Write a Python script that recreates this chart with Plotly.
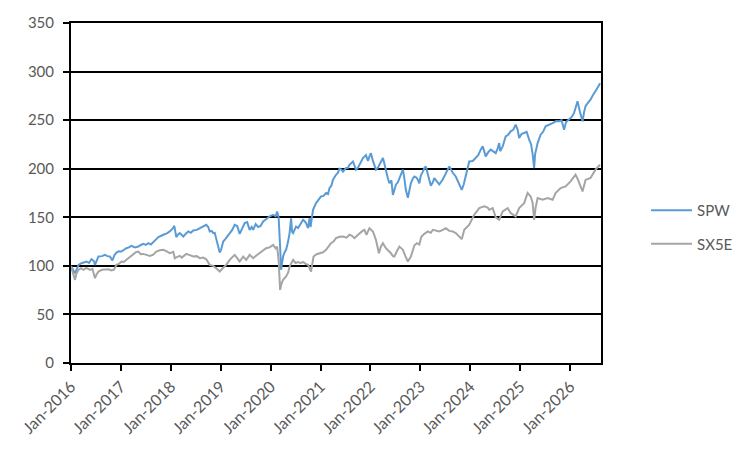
import plotly.graph_objects as go

# ---- data (x = decimal year) ----
spw_t = [2016.00, 2016.04, 2016.08, 2016.12, 2016.15, 2016.21, 2016.26, 2016.31, 2016.36, 2016.41,
         2016.46, 2016.48, 2016.52, 2016.55, 2016.62, 2016.68, 2016.73, 2016.78, 2016.83, 2016.87,
         2016.91, 2016.96, 2017.01, 2017.06, 2017.11, 2017.16, 2017.21, 2017.28, 2017.35, 2017.40,
         2017.45, 2017.50, 2017.55, 2017.60, 2017.65, 2017.70, 2017.75, 2017.80, 2017.85, 2017.92,
         2017.98, 2018.03, 2018.07, 2018.11, 2018.14, 2018.18, 2018.22, 2018.25, 2018.30, 2018.35,
         2018.40, 2018.45, 2018.52, 2018.58, 2018.65, 2018.71, 2018.75, 2018.78, 2018.82, 2018.85,
         2018.88, 2018.91, 2018.95, 2018.98, 2019.01, 2019.05, 2019.10, 2019.14, 2019.18, 2019.23,
         2019.28, 2019.33, 2019.38, 2019.43, 2019.48, 2019.53, 2019.58, 2019.62, 2019.65, 2019.70,
         2019.75, 2019.80, 2019.85, 2019.91, 2019.98, 2020.05, 2020.10, 2020.13, 2020.16, 2020.19,
         2020.21, 2020.23, 2020.25, 2020.28, 2020.31, 2020.35, 2020.38, 2020.41, 2020.43, 2020.45,
         2020.48, 2020.51, 2020.55, 2020.58, 2020.65, 2020.68, 2020.71, 2020.75, 2020.78, 2020.80,
         2020.83, 2020.85, 2020.91, 2020.96, 2021.01, 2021.06, 2021.11, 2021.15, 2021.18, 2021.22,
         2021.25, 2021.31, 2021.35, 2021.38, 2021.42, 2021.45, 2021.51, 2021.55, 2021.58, 2021.65,
         2021.68, 2021.71, 2021.75, 2021.78, 2021.85, 2021.91, 2021.95, 2021.98, 2022.01, 2022.05,
         2022.08, 2022.11, 2022.15, 2022.18, 2022.21, 2022.25, 2022.28, 2022.31, 2022.35, 2022.38,
         2022.42, 2022.45, 2022.48, 2022.51, 2022.55, 2022.58, 2022.62, 2022.65, 2022.68, 2022.71,
         2022.75, 2022.78, 2022.81, 2022.85, 2022.88, 2022.92, 2022.95, 2022.98, 2023.01, 2023.05,
         2023.08, 2023.11, 2023.15, 2023.18, 2023.21, 2023.25, 2023.28, 2023.33, 2023.38, 2023.45,
         2023.51, 2023.55, 2023.58, 2023.65, 2023.71, 2023.78, 2023.83, 2023.87, 2023.91, 2023.95,
         2023.98, 2024.05, 2024.11, 2024.16, 2024.21, 2024.25, 2024.31, 2024.36, 2024.41, 2024.46,
         2024.51, 2024.55, 2024.58, 2024.60, 2024.65, 2024.71, 2024.76, 2024.81, 2024.86, 2024.91,
         2024.95, 2024.98, 2025.03, 2025.08, 2025.13, 2025.18, 2025.22, 2025.25, 2025.28, 2025.30,
         2025.35, 2025.41, 2025.46, 2025.51, 2025.58, 2025.65, 2025.72, 2025.78, 2025.83, 2025.88,
         2025.92, 2025.98, 2026.03, 2026.08, 2026.12, 2026.15, 2026.20, 2026.25, 2026.28, 2026.31,
         2026.36, 2026.41, 2026.46, 2026.51, 2026.56, 2026.60]
spw_v = [100, 96, 92.4, 97, 101, 102.7, 104, 104.5, 103, 106.8,
         105, 101, 106, 109.6, 110, 111.3, 110, 109.6, 105.5, 111,
         113.7, 115, 114.7, 116.5, 118.2, 119, 120.5, 119, 119.9, 121.5,
         122.6, 121.5, 123.4, 122, 124, 127, 129.6, 130.5, 132, 133.5,
         135.4, 138, 141.2, 129.6, 132, 133.7, 131, 130.2, 133, 135.4,
         134, 136.4, 137, 138.8, 140.5, 142.3, 140, 135.4, 136, 133.7,
         134, 128.5, 122, 113.7, 117, 125, 128, 131, 133.7, 137,
         142.3, 141, 132.9, 138, 144, 145, 137.1, 140, 137, 143,
         140, 141, 145.7, 148, 151, 152.6, 151, 156, 150, 120,
         96, 103, 109.6, 114, 116.5, 125, 133.7, 149, 135, 133.7,
         138, 140.5, 139, 142, 147.4, 146, 144, 138.8, 149, 140,
         152, 157.7, 164.6, 168, 171.5, 172, 175, 174, 180, 183,
         188.7, 193.8, 196, 200, 199, 197, 200.7, 201, 204, 207.5,
         204, 199, 201, 204, 211, 214, 208, 212.7, 216, 208,
         202.4, 199, 201, 204, 207, 211, 205, 197, 190, 185,
         188, 173, 178, 183.5, 186, 190, 195, 199, 190, 178,
         170, 178, 185, 190, 192, 191, 188.7, 185, 193, 197,
         200.7, 202.4, 193, 188.7, 182.5, 186, 190.4, 187, 183.8, 188.9,
         195.8, 199, 202.4, 195.8, 192, 183.8, 178.3, 184, 192, 200,
         207.5, 208, 210.9, 214, 219.6, 223, 212.7, 217, 219.6, 218,
         216, 221, 226.4, 218, 223, 233.3, 235, 238.5, 240, 245.4,
         240, 231.6, 236, 236.8, 238, 229.9, 225, 215, 200.7, 215,
         226.4, 235, 238, 243.6, 245, 247, 249, 248.8, 250, 240,
         248, 250.5, 253, 257.4, 263, 269.4, 258, 248.8, 258, 264.3,
         268, 271.1, 276, 279.7, 284, 288]

sx5e_t = [2016.00, 2016.04, 2016.08, 2016.11, 2016.15, 2016.20, 2016.25, 2016.31, 2016.38, 2016.43,
          2016.48, 2016.51, 2016.55, 2016.62, 2016.68, 2016.75, 2016.81, 2016.86, 2016.91, 2016.96,
          2017.01, 2017.06, 2017.11, 2017.18, 2017.25, 2017.30, 2017.35, 2017.40, 2017.45, 2017.52,
          2017.58, 2017.65, 2017.71, 2017.78, 2017.85, 2017.92, 2017.98, 2018.05, 2018.08, 2018.12,
          2018.18, 2018.22, 2018.31, 2018.38, 2018.45, 2018.52, 2018.58, 2018.65, 2018.71, 2018.78,
          2018.85, 2018.91, 2018.98, 2019.05, 2019.11, 2019.18, 2019.28, 2019.33, 2019.38, 2019.45,
          2019.51, 2019.58, 2019.65, 2019.72, 2019.78, 2019.85, 2019.91, 2019.98, 2020.05, 2020.10,
          2020.13, 2020.16, 2020.19, 2020.22, 2020.25, 2020.31, 2020.35, 2020.38, 2020.45, 2020.50,
          2020.55, 2020.60, 2020.65, 2020.70, 2020.75, 2020.81, 2020.86, 2020.92, 2020.98, 2021.05,
          2021.11, 2021.16, 2021.21, 2021.26, 2021.31, 2021.38, 2021.45, 2021.52, 2021.58, 2021.63,
          2021.68, 2021.73, 2021.78, 2021.84, 2021.88, 2021.92, 2021.98, 2022.02, 2022.05, 2022.11,
          2022.17, 2022.21, 2022.25, 2022.31, 2022.36, 2022.41, 2022.45, 2022.48, 2022.53, 2022.58,
          2022.62, 2022.65, 2022.70, 2022.75, 2022.81, 2022.88, 2022.93, 2022.98, 2023.02, 2023.08,
          2023.15, 2023.21, 2023.25, 2023.31, 2023.38, 2023.45, 2023.51, 2023.58, 2023.65, 2023.71,
          2023.78, 2023.83, 2023.88, 2023.98, 2024.08, 2024.18, 2024.28, 2024.35, 2024.38, 2024.45,
          2024.51, 2024.58, 2024.65, 2024.75, 2024.81, 2024.91, 2024.98, 2025.08, 2025.15, 2025.21,
          2025.25, 2025.28, 2025.31, 2025.35, 2025.45, 2025.55, 2025.65, 2025.71, 2025.81, 2025.91,
          2026.01, 2026.11, 2026.16, 2026.25, 2026.31, 2026.41, 2026.51, 2026.60]
sx5e_v = [99.3, 92, 85.6, 92, 95.9, 97.6, 96, 98, 95.9, 97,
          87.3, 91, 94.2, 96, 95.9, 96.5, 95.2, 96, 101, 102,
          104.5, 104, 106.2, 109, 111.3, 114, 114.7, 112, 112.3, 111,
          110.3, 111.5, 114.7, 116, 116.5, 115, 113, 114.5, 107.9, 109,
          110.3, 108.5, 112.3, 111, 109.6, 110, 107.9, 108.5, 106.8, 101,
          100, 97.6, 94.2, 98, 101, 106.2, 111.3, 108, 104.5, 109.6,
          106.2, 111.3, 107.9, 111, 113, 116, 118.2, 119, 121.6, 118,
          119.9, 106.2, 75.3, 82, 85.6, 89, 93, 99.3, 106.2, 103,
          104, 102.7, 104, 102, 101, 94.2, 109.6, 112, 113, 114,
          116.5, 120, 123.4, 125, 128.5, 130, 130.2, 129, 132, 131,
          128.5, 131, 133.7, 136, 137.1, 132, 138.8, 137, 135.4, 126.8,
          113, 120, 123.4, 118.2, 116, 113, 110, 109.6, 115, 119.9,
          118, 116.5, 110, 104.5, 109.6, 121, 123.4, 122, 130, 133,
          135.4, 134, 137.1, 136, 135.4, 137, 138.8, 136, 135.4, 133.7,
          130, 127.5, 137.1, 142.3, 152.6, 159.5, 161.2, 160, 157.7, 159.5,
          150, 147.4, 156, 159.5, 154.3, 150.9, 159.5, 164.6, 175, 171.5,
          165, 147.4, 160, 169.8, 168, 169.8, 168, 175, 180, 181.8,
          187, 193.8, 188.5, 176.6, 188.5, 190.4, 199, 204.1]

years = [2016, 2017, 2018, 2019, 2020, 2021, 2022, 2023, 2024, 2025, 2026]
year_labels = ["Jan-2016", "Jan-2017", "Jan-2018", "Jan-2019", "Jan-2020", "Jan-2021",
               "Jan-2022", "Jan-2023", "Jan-2024", "Jan-2025", "Jan-2026"]
y_ticks = [0, 50, 100, 150, 200, 250, 300, 350]

FONT = "Lato, 'Open Sans', sans-serif"
TXT = "#595959"

fig = go.Figure()
fig.add_trace(go.Scatter(x=spw_t, y=spw_v, mode="lines", name="SPW", legendgroup="a",
                         line=dict(color="#5B9BD5", width=2)))
fig.add_trace(go.Scatter(x=sx5e_t, y=sx5e_v, mode="lines", name="SX5E", legendgroup="b",
                         line=dict(color="#A5A5A5", width=2)))

fig.update_layout(
    width=752, height=454,
    margin=dict(l=71, r=151, t=23, b=91, autoexpand=False),
    paper_bgcolor="white", plot_bgcolor="white",
    font=dict(family=FONT, size=15, color=TXT),
    showlegend=True,
    legend=dict(x=1.085, xanchor="left", y=0.497, yanchor="top",
                traceorder="grouped", tracegroupgap=11, itemwidth=41,
                font=dict(family=FONT, size=15, color=TXT),
                bgcolor="rgba(0,0,0,0)"),
)
fig.update_xaxes(
    range=[2016, 2026.62], tickvals=years, ticktext=year_labels, tickangle=-45,
    showgrid=False, zeroline=False,
    showline=True, linecolor="black", linewidth=2, mirror=True,
    ticks="outside", ticklen=6, tickwidth=2, tickcolor="black",
    tickfont=dict(family=FONT, size=16, color=TXT),
)
fig.update_yaxes(
    range=[0, 350], tickvals=y_ticks,
    showgrid=True, gridcolor="black", gridwidth=2, zeroline=False,
    showline=True, linecolor="black", linewidth=2, mirror=True,
    ticks="outside", ticklen=6, tickwidth=2, tickcolor="black",
    ticklabelstandoff=6,
    tickfont=dict(family=FONT, size=15, color=TXT),
)

# remove the browser's default 8px body margin so the figure fills the window exactly
fig.write_html("out.html", config={"displayModeBar": False},
               post_script="document.body.style.margin='0px';document.body.style.overflow='hidden';")
